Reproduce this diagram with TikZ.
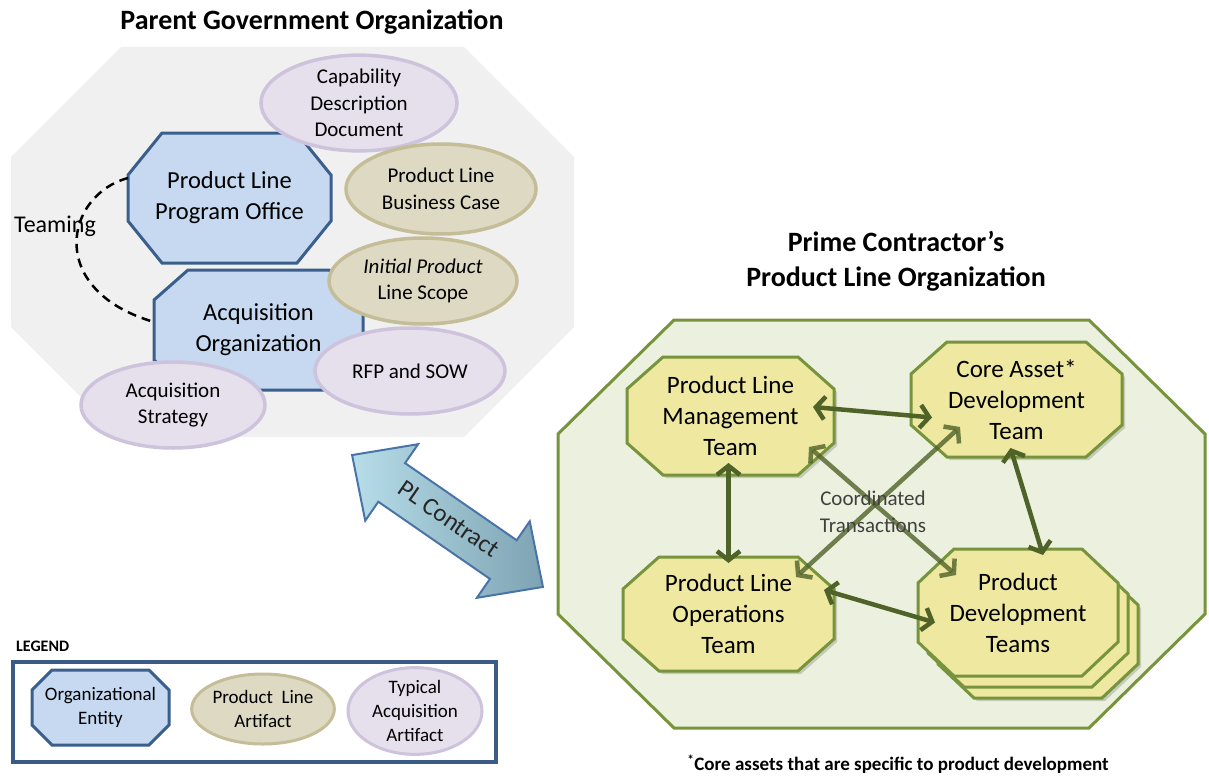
\documentclass[tikz,border=0pt]{standalone}
\usepackage{fontspec}
\setmainfont{Carlito}
\usetikzlibrary{shapes.geometric,shapes.arrows,arrows.meta,calc}
\definecolor{blueF}{HTML}{C6D9F1}
\definecolor{blueD}{HTML}{3A5F8C}
\definecolor{khakiF}{HTML}{DDD9C3}
\definecolor{khakiD}{HTML}{C4BD97}
\definecolor{lavF}{HTML}{E6E0EC}
\definecolor{lavD}{HTML}{CDC3DC}
\definecolor{grayBG}{HTML}{F0F0F0}
\definecolor{greenBG}{HTML}{EBF1DE}
\definecolor{greenD}{HTML}{77933C}
\definecolor{yellowF}{HTML}{EEE8A0}
\definecolor{arrowG}{HTML}{4F6228}
\definecolor{plLight}{HTML}{B6DDE8}
\definecolor{plDark}{HTML}{7EA3B3}
\definecolor{plBorder}{HTML}{4A74A8}
\definecolor{legendD}{HTML}{3B5A85}
\definecolor{noteGray}{HTML}{404040}
\pgfdeclarelayer{back}
\pgfdeclarelayer{bg}
\pgfsetlayers{back,bg,main}
\newcommand{\drawoct}[5]{%
\begin{pgfonlayer}{#1}
\path[#2] ([xshift=#4]#3.north west) -- ([xshift=-#4]#3.north east) -- ([yshift=-#5]#3.north east) -- ([yshift=#5]#3.south east) -- ([xshift=-#4]#3.south east) -- ([xshift=#4]#3.south west) -- ([yshift=#5]#3.south west) -- ([yshift=-#5]#3.north west) -- cycle;
\end{pgfonlayer}}
\newcommand{\shadowoct}[4]{\drawoct{#1}{fill=black, fill opacity=0.16, transform canvas={shift={(3pt,-3pt)}}}{#2}{#3}{#4}}
\begin{document}
\begin{tikzpicture}[x=1pt,y=-1pt,
  box/.style={rectangle, draw=none, inner sep=0pt, outer sep=0pt, align=center},
  orgtext/.style={box, font=\fontsize{24.5}{31}\selectfont},
  teamtext/.style={box, font=\fontsize{25}{31}\selectfont},
  ell/.style={ellipse, inner sep=0pt, line width=3.5pt, align=center, font=\fontsize{21}{26.5}\selectfont},
  khaki/.style={ell, fill=khakiF, draw=khakiD},
  lav/.style={ell, fill=lavF, draw=lavD},
  blueoct/.style={fill=blueF, draw=blueD, line width=3pt},
  yeloct/.style={fill=yellowF, draw=greenD, line width=3pt},
  garrow/.style={draw=arrowG, line width=4.5pt, >={Straight Barb[length=9pt,width=23pt]}, <->},
  titletext/.style={align=center, font=\bfseries\fontsize{28}{35}\selectfont}
]
\useasboundingbox (0,0) rectangle (1209,776);

% ---------- Left: Parent Government Organization ----------
\node[titletext] (govtitle) at (312,22) {Parent Government Organization};
\node[box, minimum width=563pt, minimum height=390pt] (govbg) at (292.5,242) {};
\drawoct{back}{fill=grayBG}{govbg}{110pt}{110pt}

\node[orgtext, minimum width=203pt, minimum height=130pt] (plpo) at (229.5,198) {Product Line\\Program Office};
\drawoct{bg}{blueoct}{plpo}{34pt}{42pt}
\node[orgtext, minimum width=209pt, minimum height=120pt] (ao) at (258.5,330) {Acquisition\\Organization};
\drawoct{bg}{blueoct}{ao}{34pt}{30pt}

\node[lav, minimum width=196pt, minimum height=90pt] (cdd) at (359,103) {Capability\\Description\\Document};
\node[khaki, minimum width=190pt, minimum height=90pt] (plbc) at (441,189) {Product Line\\Business Case};
\node[khaki, minimum width=188pt, minimum height=86pt] (ipls) at (423,281) {\itshape Initial Product\\Line Scope};
\node[lav, minimum width=190pt, minimum height=86pt] (rfp) at (410,371) {RFP and SOW};
\node[lav, minimum width=184pt, minimum height=86pt] (acqs) at (173,405) {Acquisition\\Strategy};

\node[font=\fontsize{24}{28}\selectfont, inner sep=0pt] (teaming) at (55,226) {Teaming};
\draw[black, line width=2.5pt, dash pattern=on 9pt off 6pt] ([yshift=20pt]plpo.west) .. controls (65,195) and (45,290) .. ([yshift=8pt]ao.west);

% ---------- PL Contract arrow ----------
\node[double arrow, rotate=-34.65, minimum height=232pt, text height=15pt, text depth=4pt,
  inner xsep=4pt, inner ysep=13pt, double arrow head extend=23pt, double arrow tip angle=88,
  left color=plLight, right color=plDark, draw=plBorder, line width=2pt,
  font=\fontsize{25}{28}\selectfont, text=black!85] (contract) at (447.5,521) {PL Contract};

% ---------- Right: Prime Contractor's Product Line Organization ----------
\node[titletext] (primetitle) at (896,261.5) {Prime Contractor's\\Product Line Organization};
\node[box, minimum width=647pt, minimum height=408pt] (primebg) at (881.5,524) {};
\drawoct{back}{fill=greenBG, draw=greenD, line width=3pt}{primebg}{116pt}{114pt}

\node[teamtext, minimum width=207pt, minimum height=118pt] (plmt) at (730.5,416) {Product Line\\Management\\Team};
\shadowoct{bg}{plmt}{36pt}{32pt}
\drawoct{bg}{yeloct}{plmt}{36pt}{32pt}
\node[teamtext, minimum width=211pt, minimum height=115pt] (cadt) at (1016.5,399.5) {Core Asset*\\Development\\Team};
\shadowoct{bg}{cadt}{36pt}{32pt}
\drawoct{bg}{yeloct}{cadt}{36pt}{32pt}
\node[teamtext, minimum width=211pt, minimum height=114pt] (plot) at (728.5,614) {Product Line\\Operations\\Team};
\shadowoct{bg}{plot}{36pt}{32pt}
\drawoct{bg}{yeloct}{plot}{36pt}{32pt}
\node[box, minimum width=200pt, minimum height=127pt] (pdtc) at (1038,634.5) {};
\shadowoct{bg}{pdtc}{36pt}{34pt}
\drawoct{bg}{yeloct}{pdtc}{36pt}{34pt}
\node[box, minimum width=200pt, minimum height=127pt] (pdtb) at (1028,623.5) {};
\drawoct{bg}{yeloct}{pdtb}{36pt}{34pt}
\node[teamtext, minimum width=200pt, minimum height=127pt] (pdt) at (1018,612.5) {Product\\Development\\Teams};
\drawoct{bg}{yeloct}{pdt}{36pt}{34pt}

\draw[garrow, draw opacity=0.8] ([shift={(-25,-28)}]plmt.south east) -- ([shift={(38,26)}]pdt.north west);
\draw[garrow, draw opacity=0.8] ([shift={(49,-30)}]cadt.south west) -- ([shift={(-38,20)}]plot.north east);
\node[align=center, text=noteGray, font=\fontsize{21}{27}\selectfont, inner sep=0pt] (coord) at (873,512) {Coordinated\\Transactions};
\draw[garrow] ([shift={(-21,-9)}]plmt.east) -- ([shift={(21,18)}]cadt.west);
\draw[garrow] ([shift={(-2,-12)}]plmt.south) -- ([shift={(0,6)}]plot.north);
\draw[garrow] ([shift={(-6,-9)}]cadt.south) -- ([shift={(25,6)}]pdt.north);
\draw[garrow] ([shift={(-10,-24)}]plot.east) -- ([shift={(17,10)}]pdt.west);

\node[font=\bfseries\fontsize{19}{22}\selectfont, inner sep=0pt] (footnote) at (898,764) {\textsuperscript{*}Core assets that are specific to product development};

% ---------- Legend ----------
\node[anchor=west, font=\bfseries\fontsize{16}{18}\selectfont, inner sep=0pt] (legendlabel) at (16,646) {LEGEND};
\node[box, minimum width=483pt, minimum height=100pt] (legend) at (254.5,712) {};
\begin{pgfonlayer}{back}
\draw[draw=legendD, fill=white, line width=3.5pt] (legend.north west) rectangle (legend.south east);
\end{pgfonlayer}
\node[box, font=\fontsize{19}{24}\selectfont, minimum width=137pt, minimum height=75pt] (legorg) at (100.5,707.5) {Organizational\\Entity};
\drawoct{bg}{blueoct}{legorg}{20pt}{20pt}
\node[khaki, font=\fontsize{19}{24}\selectfont, minimum width=136pt, minimum height=70pt, line width=3pt] (legpla) at (263,709) {Product\ \ Line\\Artifact};
\node[lav, font=\fontsize{19}{24}\selectfont, minimum width=134pt, minimum height=70pt, line width=3pt] (legtaa) at (415,711) {Typical\\Acquisition\\Artifact};
\end{tikzpicture}
\end{document}
